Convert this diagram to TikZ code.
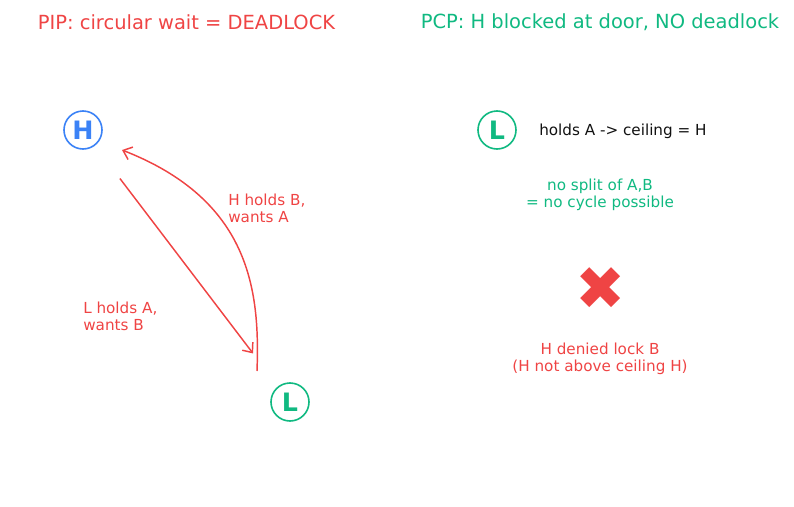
\documentclass[tikz,border=0pt]{standalone}
\usepackage{fontspec}
\setmainfont{DejaVu Sans}
\usetikzlibrary{arrows.meta,positioning,calc}
\definecolor{lockred}{HTML}{EF4444}
\definecolor{taskgreen}{HTML}{10B981}
\definecolor{taskblue}{HTML}{3B82F6}
\definecolor{plaintext}{HTML}{111111}

\begin{document}
\begin{tikzpicture}[x=0.75pt,y=-0.75pt,
  task/.style={circle,draw,line width=1.2pt,minimum size=28.5pt,inner sep=0pt,
               font=\fontsize{19}{20}\selectfont\bfseries},
  heading/.style={font=\fontsize{14.6}{17}\selectfont},
  note/.style={align=center,font=\fontsize{11.4}{12.8}\selectfont,inner sep=0pt},
  wait/.style={-{Straight Barb[length=6pt,width=10pt]},line width=1.1pt,draw=lockred}
]
\useasboundingbox (0,0) rectangle (794,507);
% left side: priority inheritance
\node[heading,text=lockred] (piptitle) at (186.5,22) {PIP: circular wait = DEADLOCK};
\node[task,draw=taskblue,text=taskblue] (H) at (83,130) {H};
\node[task,draw=taskgreen,text=taskgreen] (L) at (290,402) {L};
\coordinate (Lout) at ([shift={(-33,-31)}]L.center);
\coordinate (Hin) at ([shift={(39,20)}]H.center);
\draw[wait,shorten <=45.75pt,shorten >=45.75pt] (H.center) -- (L.center);
\draw[wait] (Lout) .. controls +(3,-81) and +(128,50) .. (Hin);
\node[note,align=left,anchor=west,text=lockred] (hwants) at (228,208) {H holds B,\\wants A};
\node[note,align=left,anchor=west,text=lockred] (lwants) at (83,316) {L holds A,\\wants B};
% right side: priority ceiling
\node[heading,text=taskgreen] (pcptitle) at (600,22) {PCP: H blocked at door, NO deadlock};
\node[task,draw=taskgreen,text=taskgreen] (L2) at (497,130) {L};
\node[note,anchor=west,text=plaintext] (ceiling) at (539,131) {holds A -> ceiling = H};
\node[note,text=taskgreen] (nocycle) at (600,195) {no split of A,B\\= no cycle possible};
\node[text=lockred,inner sep=0pt,font=\fontsize{45}{45}\selectfont] (deny) at (601,289) {✖};
\node[note,text=lockred] (denied) at (600,359) {H denied lock B\\(H not above ceiling H)};
\end{tikzpicture}
\end{document}
